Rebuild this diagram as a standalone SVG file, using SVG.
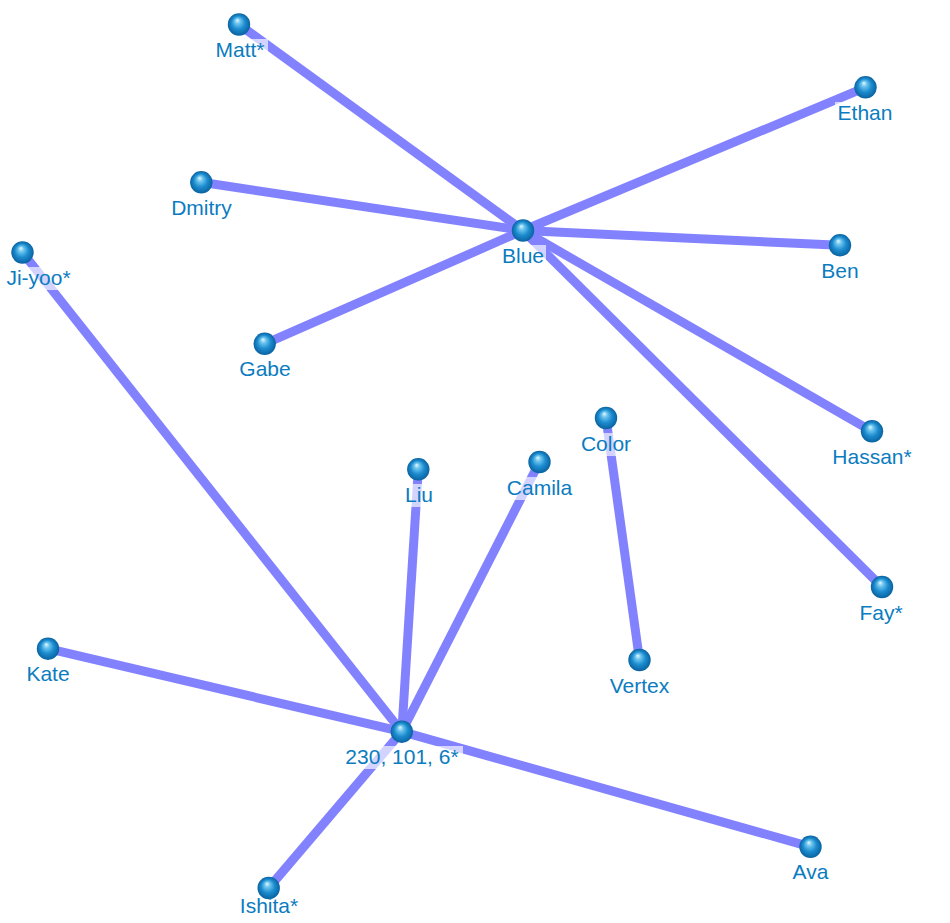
<svg xmlns="http://www.w3.org/2000/svg" width="950" height="923" viewBox="0 0 950 923">
<style>
.edge{stroke:#8282ff;stroke-width:9;stroke-linecap:butt;fill:none}
.ball{fill:url(#ballGrad)}
.lbg{fill:#ffffff;fill-opacity:0.65}
.lbl{font-family:"Liberation Sans",Arial,sans-serif;font-size:21px;fill:#0b7cbf;text-anchor:middle}
</style>
<defs>
<radialGradient id="ballGrad" cx="0.5" cy="0.5" r="0.5" fx="0.42" fy="0.3">
<stop offset="0" stop-color="#e6f8ff"/>
<stop offset="0.25" stop-color="#6cc4ee"/>
<stop offset="0.6" stop-color="#1c8ccf"/>
<stop offset="1" stop-color="#0a62a0"/>
</radialGradient>
</defs>
<rect width="950" height="923" fill="#ffffff"/>
<g id="connectors">
<line class="edge" x1="523" y1="230.5" x2="239" y2="24.5"/>
<line class="edge" x1="523" y1="230.5" x2="865.5" y2="87.3"/>
<line class="edge" x1="523" y1="230.5" x2="201.3" y2="182.3"/>
<line class="edge" x1="523" y1="230.5" x2="840" y2="245.3"/>
<line class="edge" x1="523" y1="230.5" x2="264.7" y2="343.8"/>
<line class="edge" x1="523" y1="230.5" x2="872" y2="431.3"/>
<line class="edge" x1="523" y1="230.5" x2="882" y2="587"/>
<line class="edge" x1="401.8" y1="731.7" x2="22.5" y2="252.5"/>
<line class="edge" x1="401.8" y1="731.7" x2="418.3" y2="469.3"/>
<line class="edge" x1="401.8" y1="731.7" x2="539.5" y2="462"/>
<line class="edge" x1="401.8" y1="731.7" x2="48" y2="648.7"/>
<line class="edge" x1="401.8" y1="731.7" x2="810.5" y2="846.8"/>
<line class="edge" x1="401.8" y1="731.7" x2="268.7" y2="888"/>
<line class="edge" x1="606" y1="418" x2="639.5" y2="660"/>
</g>
<g id="node-blue"><circle class="ball" cx="523" cy="230.5" r="11.2"/><rect class="lbg" x="500" y="245" width="46" height="23"/><text class="lbl" x="523" y="263">Blue</text></g>
<g id="node-matt"><circle class="ball" cx="239" cy="24.5" r="11.2"/><rect class="lbg" x="212" y="39" width="56" height="23"/><text class="lbl" x="240" y="57">Matt*</text></g>
<g id="node-ethan"><circle class="ball" cx="865.5" cy="87.3" r="11.2"/><rect class="lbg" x="835" y="102" width="60" height="23"/><text class="lbl" x="865" y="119.8">Ethan</text></g>
<g id="node-dmitry"><circle class="ball" cx="201.3" cy="182.3" r="11.2"/><rect class="lbg" x="168" y="197" width="67" height="23"/><text class="lbl" x="201.5" y="214.8">Dmitry</text></g>
<g id="node-ben"><circle class="ball" cx="840" cy="245.3" r="11.2"/><rect class="lbg" x="818" y="260" width="44" height="23"/><text class="lbl" x="840" y="277.8">Ben</text></g>
<g id="node-gabe"><circle class="ball" cx="264.7" cy="343.8" r="11.2"/><rect class="lbg" x="236" y="358" width="58" height="23"/><text class="lbl" x="265" y="376.3">Gabe</text></g>
<g id="node-hassan"><circle class="ball" cx="872" cy="431.3" r="11.2"/><rect class="lbg" x="828" y="446" width="88" height="23"/><text class="lbl" x="872" y="463.8">Hassan*</text></g>
<g id="node-fay"><circle class="ball" cx="882" cy="587" r="11.2"/><rect class="lbg" x="857" y="602" width="48" height="23"/><text class="lbl" x="881" y="619.5">Fay*</text></g>
<g id="node-jiyoo"><circle class="ball" cx="22.5" cy="252.5" r="11.2"/><rect class="lbg" x="4" y="267" width="70" height="23"/><text class="lbl" x="38.5" y="285">Ji-yoo*</text></g>
<g id="node-liu"><circle class="ball" cx="418.3" cy="469.3" r="11.2"/><rect class="lbg" x="401" y="484" width="36" height="23"/><text class="lbl" x="419" y="501.8">Liu</text></g>
<g id="node-camila"><circle class="ball" cx="539.5" cy="462" r="11.2"/><rect class="lbg" x="503" y="477" width="73" height="23"/><text class="lbl" x="539.5" y="494.5">Camila</text></g>
<g id="node-color"><circle class="ball" cx="606" cy="418" r="11.2"/><rect class="lbg" x="578" y="433" width="56" height="23"/><text class="lbl" x="606" y="450.5">Color</text></g>
<g id="node-vertex"><circle class="ball" cx="639.5" cy="660" r="11.2"/><rect class="lbg" x="605" y="675" width="69" height="23"/><text class="lbl" x="639.5" y="692.5">Vertex</text></g>
<g id="node-kate"><circle class="ball" cx="48" cy="648.7" r="11.2"/><rect class="lbg" x="23" y="663" width="50" height="23"/><text class="lbl" x="48" y="681.2">Kate</text></g>
<g id="node-230"><circle class="ball" cx="401.8" cy="731.7" r="11.2"/><rect class="lbg" x="341" y="746" width="122" height="23"/><text class="lbl" x="402" y="764.2">230, 101, 6*</text></g>
<g id="node-ava"><circle class="ball" cx="810.5" cy="846.8" r="11.2"/><rect class="lbg" x="789" y="861" width="43" height="23"/><text class="lbl" x="810.5" y="879.3">Ava</text></g>
<g id="node-ishita"><rect class="lbg" x="236" y="897" width="66" height="23"/><circle class="ball" cx="268.7" cy="888" r="11.2"/><text class="lbl" x="269" y="912.5">Ishita*</text></g>
</svg>
